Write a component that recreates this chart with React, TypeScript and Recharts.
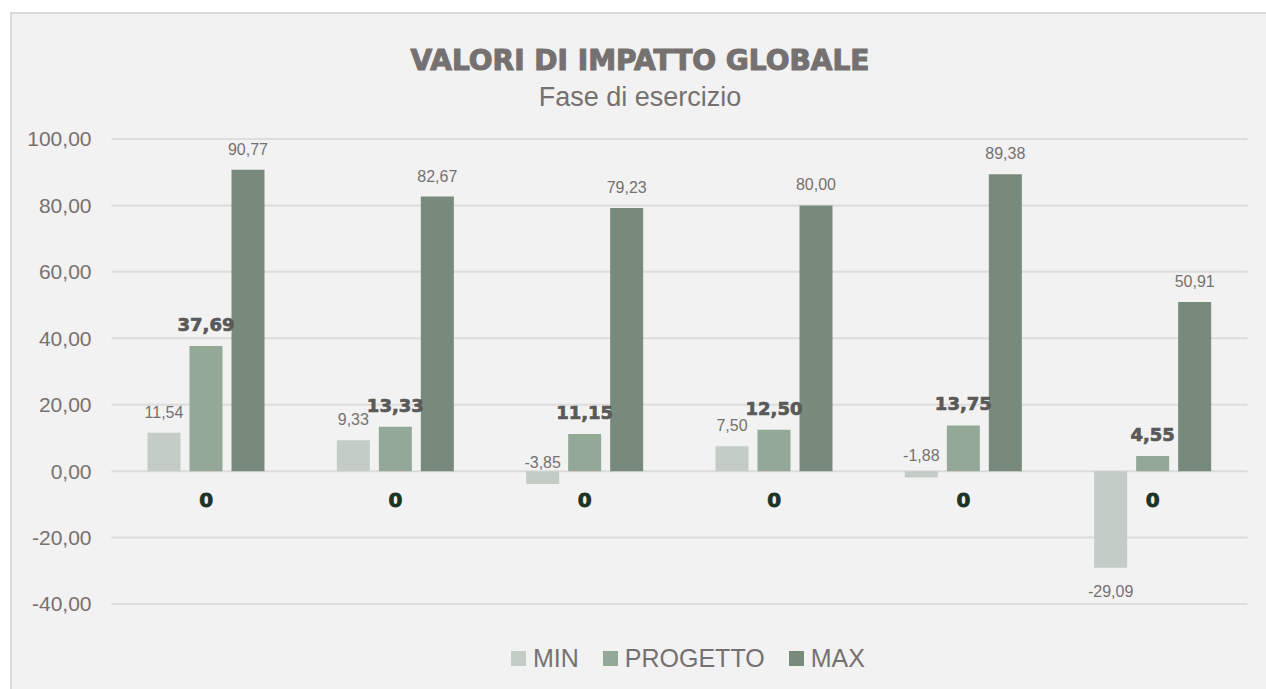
import React from "react";
import {
  BarChart,
  Bar,
  XAxis,
  YAxis,
  CartesianGrid,
  LabelList,
  Legend,
  ReferenceDot,
} from "recharts";

const categories = ["g1", "g2", "g3", "g4", "g5", "g6"];
const categoryLabels = ["0", "0", "0", "0", "0", "0"];
const minValues = [11.54, 9.33, -3.85, 7.5, -1.88, -29.09];
const progettoValues = [37.69, 13.33, 11.15, 12.5, 13.75, 4.55];
const maxValues = [90.77, 82.67, 79.23, 80.0, 89.38, 50.91];
const yTicks = [-40, -20, 0, 20, 40, 60, 80, 100];
const seriesNames = ["MIN", "PROGETTO", "MAX"];
const seriesColors = ["#c4cdc5", "#94a897", "#788a7c"];

const data = categories.map((id, i) => ({
  id,
  min: minValues[i],
  progetto: progettoValues[i],
  max: maxValues[i],
}));

const SANS = "'Liberation Sans', Arial, sans-serif";
const HEAVY = "'DejaVu Sans', sans-serif";
const GREY = "#767171";

const fmt = (v: number) => v.toFixed(2).replace(".", ",");

// etichetta sopra/sotto la barra, come in Excel
const makeLabel = (bold: boolean) => (props: any) => {
  const vb = props.viewBox ?? props;
  const x = Number(vb.x);
  const y = Number(vb.y);
  const w = Number(vb.width);
  const h = Number(vb.height);
  const top = Math.min(y, y + h);
  const bottom = Math.max(y, y + h);
  const v = Number(props.value);
  let ty: number;
  if (v >= 0) ty = top - 15;
  else if (bottom - top < 20) ty = bottom - 16;
  else ty = bottom + 29;
  return (
    <text
      x={x + w / 2}
      y={ty}
      textAnchor="middle"
      fill={bold ? "#595959" : GREY}
      stroke={bold ? "#595959" : "none"}
      strokeWidth={bold ? 0.7 : 0}
      fontSize={bold ? 18 : 16}
      fontWeight={bold ? 700 : 400}
      fontFamily={bold ? HEAVY : SANS}
    >
      {fmt(v)}
    </text>
  );
};

const zeroLabel = (text: string) => (props: any) => {
  const vb = props.viewBox ?? props;
  const cx = Number(vb.x) + Number(vb.width || 0) / 2;
  const cy = Number(vb.y) + Number(vb.height || 0) / 2;
  return (
    <text
      x={cx}
      y={cy + 36}
      textAnchor="middle"
      fill="#1c3326"
      stroke="#1c3326"
      strokeWidth={0.8}
      fontSize={20}
      fontWeight={700}
      fontFamily={HEAVY}
    >
      {text}
    </text>
  );
};

const LegendContent = () => (
  <div style={{ display: "flex", alignItems: "center", height: 30 }}>
    {seriesNames.map((n, i) => (
      <div key={n} style={{ display: "flex", alignItems: "center", marginRight: 24 }}>
        <span
          style={{
            display: "inline-block",
            width: 15,
            height: 15,
            background: seriesColors[i],
            marginRight: 7,
          }}
        />
        <span
          style={{
            fontSize: 25,
            lineHeight: "30px",
            color: GREY,
            fontFamily: SANS,
          }}
        >
          {n}
        </span>
      </div>
    ))}
  </div>
);

export default function App() {
  const keys = ["min", "progetto", "max"];
  return (
    <div
      style={{
        position: "absolute",
        left: 0,
        top: 0,
        width: 1266,
        height: 689,
        overflow: "hidden",
        background: "#ffffff",
      }}
    >
      <div
        style={{
          position: "absolute",
          left: 10,
          top: 12,
          width: 1300,
          height: 720,
          background: "#f2f2f2",
          border: "2px solid #dadada",
          boxSizing: "border-box",
        }}
      />
      <div style={{ position: "absolute", left: 0, top: 0 }}>
        <BarChart
          width={1266}
          height={689}
          data={data}
          margin={{ top: 139, right: 18.5, left: 0, bottom: 55 }}
          barCategoryGap={36}
          barGap={9}
          style={{ fontFamily: SANS }}
        >
          <CartesianGrid vertical={false} stroke="#dcdcdc" strokeWidth={2} />
          <XAxis dataKey="id" hide />
          <YAxis
            width={111.5}
            domain={[-40, 100]}
            ticks={yTicks}
            tickFormatter={fmt}
            axisLine={false}
            tickLine={false}
            tickSize={0}
            tickMargin={20}
            tick={{ fill: GREY, fontSize: 21, fontFamily: SANS }}
          />
          {keys.map((k, i) => (
            <Bar
              key={k}
              dataKey={k}
              name={seriesNames[i]}
              fill={seriesColors[i]}
              isAnimationActive={false}
            >
              <LabelList dataKey={k} content={makeLabel(i === 1)} />
            </Bar>
          ))}
          {categories.map((id, i) => (
            <ReferenceDot
              key={id}
              x={id}
              y={0}
              r={1}
              fill="none"
              stroke="none"
              label={zeroLabel(categoryLabels[i])}
            />
          ))}
          <Legend
            verticalAlign="bottom"
            wrapperStyle={{ left: 511, top: 643, bottom: "auto", width: 600, height: 30 }}
            content={LegendContent}
          />
        </BarChart>
      </div>
      <svg
        width={1266}
        height={689}
        style={{ position: "absolute", left: 0, top: 0, pointerEvents: "none" }}
      >
        <text
          x={640}
          y={70}
          textAnchor="middle"
          fill={GREY}
          stroke={GREY}
          strokeWidth={1.1}
          fontSize={28}
          fontWeight={700}
          fontFamily={HEAVY}
        >
          VALORI DI IMPATTO GLOBALE
        </text>
        <text x={640} y={106} textAnchor="middle" fill={GREY} fontSize={27} fontFamily={SANS}>
          Fase di esercizio
        </text>
      </svg>
    </div>
  );
}
